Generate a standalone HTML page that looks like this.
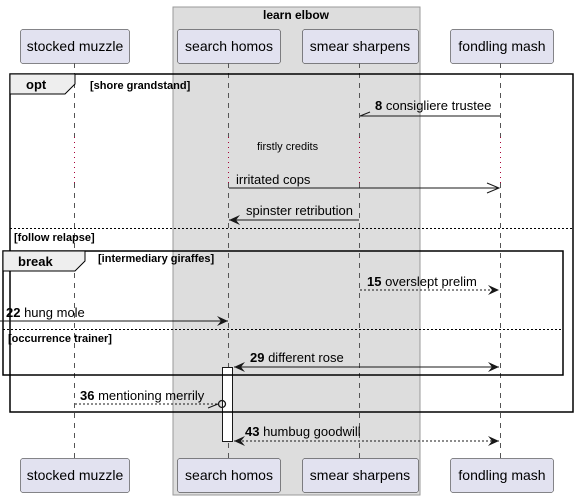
<!DOCTYPE html>
<html><head><meta charset="utf-8"><style>
html,body{margin:0;padding:0;background:#fff;}
svg{display:block;font-family:"Liberation Sans",sans-serif;}
</style></head><body>
<svg width="576" height="500" viewBox="0 0 576 500" xmlns="http://www.w3.org/2000/svg">
<defs>
<marker id="f" viewBox="0 0 12 10" refX="11" refY="5" markerWidth="12" markerHeight="10" markerUnits="userSpaceOnUse" orient="auto-start-reverse"><path d="M0,0 L11,5 L0,10 L4,5 Z" fill="#181818"/></marker>
</defs>
<rect x="173" y="7" width="247" height="488" fill="#dddddd" stroke="#999" stroke-width="1"/>
<text x="296" y="19" font-size="12" font-weight="bold" text-anchor="middle" fill="#000">learn elbow</text>
<g stroke="#555" stroke-width="1" stroke-dasharray="5,5">
<line x1="74.5" y1="63" x2="74.5" y2="458"/>
<line x1="228.5" y1="63" x2="228.5" y2="458"/>
<line x1="359.5" y1="63" x2="359.5" y2="458"/>
<line x1="500.5" y1="63" x2="500.5" y2="458"/>
</g>
<line x1="74.5" y1="137" x2="74.5" y2="183" stroke="#fff" stroke-width="2"/>
<line x1="500.5" y1="137" x2="500.5" y2="183" stroke="#fff" stroke-width="2"/>
<line x1="228.5" y1="137" x2="228.5" y2="183" stroke="#ddd" stroke-width="2"/>
<line x1="359.5" y1="137" x2="359.5" y2="183" stroke="#ddd" stroke-width="2"/>
<g stroke="#a80036" stroke-width="1" stroke-dasharray="1,4"><line x1="74.5" y1="137" x2="74.5" y2="183"/><line x1="228.5" y1="137" x2="228.5" y2="183"/><line x1="359.5" y1="137" x2="359.5" y2="183"/><line x1="500.5" y1="137" x2="500.5" y2="183"/></g>
<g fill="#e2e2f0" stroke="#181818" stroke-width="0.5">
<rect x="20.5" y="29.5" width="109" height="34" rx="2.5"/>
<rect x="177.5" y="29.5" width="103" height="34" rx="2.5"/>
<rect x="302.5" y="29.5" width="116" height="34" rx="2.5"/>
<rect x="450.5" y="29.5" width="103" height="34" rx="2.5"/>
<rect x="20.5" y="458.5" width="109" height="34" rx="2.5"/>
<rect x="177.5" y="458.5" width="103" height="34" rx="2.5"/>
<rect x="302.5" y="458.5" width="116" height="34" rx="2.5"/>
<rect x="450.5" y="458.5" width="103" height="34" rx="2.5"/>
</g>
<g font-size="14" fill="#000" text-anchor="middle">
<text x="75" y="51">stocked muzzle</text><text x="229" y="51">search homos</text><text x="360" y="51">smear sharpens</text><text x="502" y="51">fondling mash</text>
<text x="75" y="480">stocked muzzle</text><text x="229" y="480">search homos</text><text x="360" y="480">smear sharpens</text><text x="502" y="480">fondling mash</text>
</g>
<!-- activation -->
<rect x="222.5" y="367.5" width="10" height="74" fill="#fff" stroke="#181818"/>
<!-- opt frame -->
<rect x="10" y="74" width="563" height="338" fill="none" stroke="#000" stroke-width="1.5"/>
<path d="M10,74 L75,74 L75,84 L65,94 L10,94 Z" fill="#eee" stroke="#000" stroke-width="1"/>
<text x="26" y="89" font-size="13" font-weight="bold">opt</text>
<text x="90" y="89" font-size="11" font-weight="bold">[shore grandstand]</text>
<line x1="500" y1="116" x2="360" y2="116" stroke="#181818"/>
<line x1="360" y1="116" x2="370" y2="112" stroke="#181818"/>
<text x="375" y="110" font-size="13"><tspan font-weight="bold">8</tspan> consigliere trustee</text>
<text x="257" y="150" font-size="11">firstly credits</text>
<line x1="229" y1="188" x2="499" y2="188" stroke="#181818"/>
<path d="M487,183 L499,188 L487,193" fill="none" stroke="#181818"/>
<text x="236" y="184" font-size="13">irritated cops</text>
<line x1="359" y1="220" x2="229" y2="220" stroke="#181818" marker-end="url(#f)"/>
<text x="246" y="215" font-size="13">spinster retribution</text>
<line x1="10" y1="228.5" x2="573" y2="228.5" stroke="#000" stroke-dasharray="2,2"/>
<text x="14" y="241" font-size="11" font-weight="bold">[follow relapse]</text>
<!-- break frame -->
<rect x="3" y="251" width="560" height="124" fill="none" stroke="#000" stroke-width="1.5"/>
<path d="M3,251 L85,251 L85,261 L75,271 L3,271 Z" fill="#eee" stroke="#000" stroke-width="1"/>
<text x="18" y="266" font-size="13" font-weight="bold">break</text>
<text x="98" y="262" font-size="11" font-weight="bold">[intermediary giraffes]</text>
<line x1="360" y1="290" x2="499" y2="290" stroke="#181818" stroke-dasharray="2,2" marker-end="url(#f)"/>
<text x="367" y="286" font-size="13"><tspan font-weight="bold">15</tspan> overslept prelim</text>
<line x1="0" y1="321" x2="228" y2="321" stroke="#181818" marker-end="url(#f)"/>
<text x="6" y="317" font-size="13"><tspan font-weight="bold">22</tspan> hung mole</text>
<line x1="3" y1="329.5" x2="563" y2="329.5" stroke="#000" stroke-dasharray="2,2"/>
<text x="8" y="342" font-size="11" font-weight="bold">[occurrence trainer]</text>
<line x1="234" y1="367" x2="499" y2="367" stroke="#181818" marker-start="url(#f)" marker-end="url(#f)"/>
<text x="250" y="362" font-size="13"><tspan font-weight="bold">29</tspan> different rose</text>
<line x1="75" y1="404" x2="218" y2="404" stroke="#181818" stroke-dasharray="2,2"/>
<line x1="208" y1="408" x2="218" y2="404" stroke="#181818"/>
<circle cx="222" cy="404" r="3.5" fill="none" stroke="#181818" stroke-width="1.3"/>
<text x="80" y="400" font-size="13"><tspan font-weight="bold">36</tspan> mentioning merrily</text>
<line x1="234" y1="441" x2="499" y2="441" stroke="#181818" stroke-dasharray="2,2" marker-start="url(#f)" marker-end="url(#f)"/>
<text x="245" y="436" font-size="13"><tspan font-weight="bold">43</tspan> humbug goodwill</text>
</svg>
</body></html>
